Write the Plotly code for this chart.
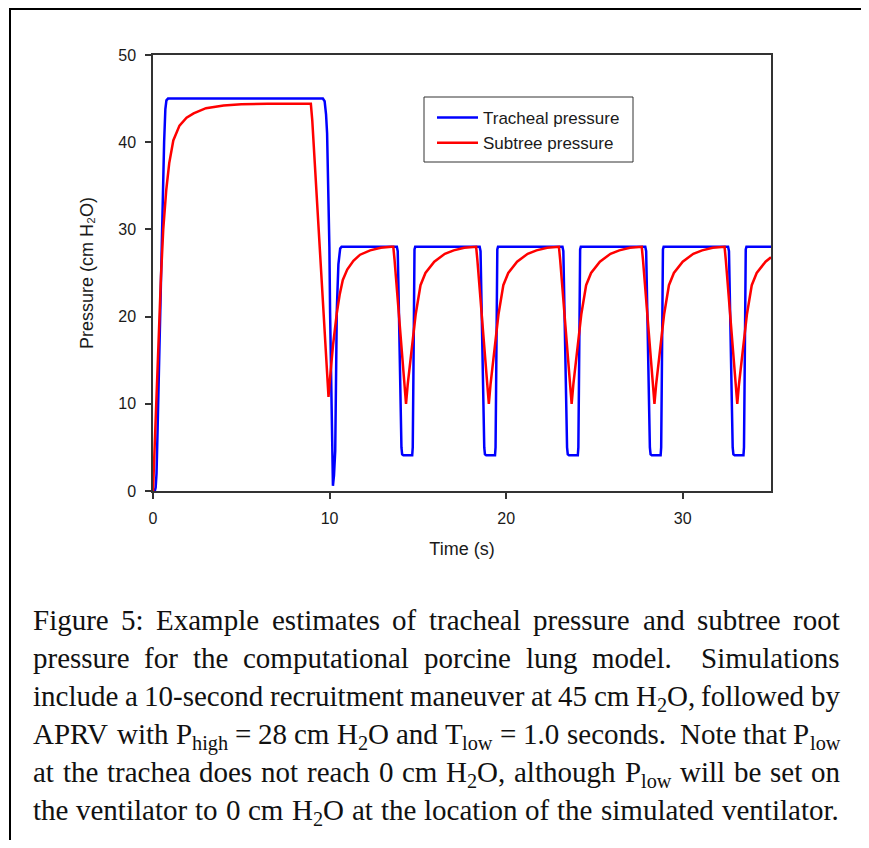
import re
import plotly.graph_objects as go

# ---------------- data ----------------
# Tracheal pressure (cm H2O) vs time (s)
trach_t = [0.00, 0.10, 0.15, 0.20, 0.26, 0.35, 0.45, 0.55, 0.63, 0.70, 0.76, 0.85,
           9.62, 9.72, 9.80, 9.86, 9.93, 9.99, 10.03, 10.10, 10.15, 10.19, 10.25, 10.32,
           10.41, 10.50, 10.60, 10.68,
           13.81, 13.86, 13.90, 13.96, 14.02, 14.07, 14.11, 14.18, 14.68, 14.71, 14.74, 14.77, 14.79, 14.81, 14.85,
           18.50, 18.55, 18.59, 18.65, 18.71, 18.76, 18.80, 18.87, 19.37, 19.40, 19.43, 19.46, 19.48, 19.50, 19.54,
           23.19, 23.24, 23.28, 23.34, 23.40, 23.45, 23.49, 23.56, 24.06, 24.09, 24.12, 24.15, 24.17, 24.19, 24.23,
           27.88, 27.93, 27.97, 28.03, 28.09, 28.14, 28.18, 28.25, 28.75, 28.78, 28.81, 28.84, 28.86, 28.88, 28.92,
           32.57, 32.62, 32.66, 32.72, 32.78, 32.83, 32.87, 32.94, 33.44, 33.47, 33.50, 33.53, 33.55, 33.57, 33.61,
           35.00]
trach_p = [0.0, 0.0, 0.4, 2.0, 7.0, 16.0, 24.6, 33.0, 40.0, 43.8, 44.8, 45.0,
           45.0, 44.7, 43.2, 41.0, 35.0, 28.0, 20.4, 9.0, 3.5, 0.6, 1.8, 4.6,
           20.8, 26.0, 27.8, 28.0,
           28.0, 27.5, 23.5, 15.5, 8.5, 5.0, 4.2, 4.1, 4.1, 5.0, 11.5, 20.5, 26.0, 27.7, 28.0,
           28.0, 27.5, 23.5, 15.5, 8.5, 5.0, 4.2, 4.1, 4.1, 5.0, 11.5, 20.5, 26.0, 27.7, 28.0,
           28.0, 27.5, 23.5, 15.5, 8.5, 5.0, 4.2, 4.1, 4.1, 5.0, 11.5, 20.5, 26.0, 27.7, 28.0,
           28.0, 27.5, 23.5, 15.5, 8.5, 5.0, 4.2, 4.1, 4.1, 5.0, 11.5, 20.5, 26.0, 27.7, 28.0,
           28.0, 27.5, 23.5, 15.5, 8.5, 5.0, 4.2, 4.1, 4.1, 5.0, 11.5, 20.5, 26.0, 27.7, 28.0,
           28.0]

# Subtree root pressure (cm H2O) vs time (s)
sub_t = [0.00, 0.08, 0.17, 0.30, 0.45, 0.58, 0.75, 0.92, 1.15, 1.50, 1.90, 2.30, 3.00, 4.00, 5.00, 6.50, 8.94,
         9.02, 9.50, 9.94,
         10.05, 10.20, 10.41, 10.58, 10.75, 11.00, 11.35, 11.73, 12.30, 12.90, 13.50,
         13.61, 13.68, 13.98, 14.23, 14.33, 14.43, 14.53, 14.71, 14.88, 15.15, 15.43, 15.93, 16.53, 17.03, 17.63, 18.23,
         18.30, 18.37, 18.67, 18.92, 19.02, 19.12, 19.22, 19.40, 19.57, 19.84, 20.12, 20.62, 21.22, 21.72, 22.32, 22.92,
         22.99, 23.06, 23.36, 23.61, 23.71, 23.81, 23.91, 24.09, 24.26, 24.53, 24.81, 25.31, 25.91, 26.41, 27.01, 27.61,
         27.68, 27.75, 28.05, 28.30, 28.40, 28.50, 28.60, 28.78, 28.95, 29.22, 29.50, 30.00, 30.60, 31.10, 31.70, 32.30,
         32.37, 32.44, 32.74, 32.99, 33.09, 33.19, 33.29, 33.47, 33.64, 33.91, 34.19, 34.69, 35.00]
sub_p = [0.0, 4.5, 10.5, 17.5, 24.5, 30.0, 34.5, 37.6, 40.2, 41.9, 42.8, 43.3, 43.9, 44.2, 44.35, 44.4, 44.4,
         42.5, 26.5, 10.8,
         13.5, 16.8, 20.4, 22.6, 24.2, 25.4, 26.4, 27.1, 27.6, 27.9, 28.0,
         28.0, 26.5, 19.0, 12.6, 10.0, 12.3, 14.4, 17.3, 20.3, 23.6, 25.0, 26.3, 27.2, 27.6, 27.9, 28.0,
         28.0, 26.5, 19.0, 12.6, 10.0, 12.3, 14.4, 17.3, 20.3, 23.6, 25.0, 26.3, 27.2, 27.6, 27.9, 28.0,
         28.0, 26.5, 19.0, 12.6, 10.0, 12.3, 14.4, 17.3, 20.3, 23.6, 25.0, 26.3, 27.2, 27.6, 27.9, 28.0,
         28.0, 26.5, 19.0, 12.6, 10.0, 12.3, 14.4, 17.3, 20.3, 23.6, 25.0, 26.3, 27.2, 27.6, 27.9, 28.0,
         28.0, 26.5, 19.0, 12.6, 10.0, 12.3, 14.4, 17.3, 20.3, 23.6, 25.0, 26.3, 26.8]

series_names = ["Tracheal pressure", "Subtree pressure"]
x_ticks = [0, 10, 20, 30]
y_ticks = [0, 10, 20, 30, 40, 50]
x_title = "Time (s)"
y_title = "Pressure (cm H\u2082O)"

# caption text; {...} marks a subscript
caption_lines = [
    "Figure 5: Example estimates of tracheal pressure and subtree root",
    "pressure for the computational porcine lung model.  Simulations",
    "include a 10-second recruitment maneuver at 45 cm H{2}O, followed by",
    "APRV with P{high} = 28 cm H{2}O and T{low} = 1.0 seconds.  Note that P{low}",
    "at the trachea does not reach 0 cm H{2}O, although P{low} will be set on",
    "the ventilator to 0 cm H{2}O at the location of the simulated ventilator.",
]

# ---------------- layout geometry ----------------
# The page has an 8px body margin, so figure pixel = page pixel - 8.
OFF = 8
W, H = 869 - OFF, 848 - 2 * OFF
# plot area, page pixels
PL, PR, PT, PB = 153, 771, 55, 491
L, R, T, B = PL - OFF, PR - OFF, PT - OFF, PB - OFF


def pxx(page_x):
    return (page_x - OFF - L) / (R - L)


def pxy(page_y):
    return (B - (page_y - OFF)) / (B - T)


# Times New Roman advance widths (per 1000 em) for justified caption layout
TNR = {' ': 250, ':': 278, '.': 250, ',': 250, '-': 333, '=': 564,
       'A': 722, 'E': 611, 'F': 556, 'H': 722, 'N': 722, 'O': 722, 'P': 556, 'R': 667,
       'S': 556, 'T': 611, 'V': 722,
       'a': 444, 'b': 500, 'c': 444, 'd': 500, 'e': 444, 'f': 333, 'g': 500, 'h': 500,
       'i': 278, 'j': 278, 'k': 500, 'l': 278, 'm': 778, 'n': 500, 'o': 500, 'p': 500,
       'q': 500, 'r': 333, 's': 389, 't': 278, 'u': 500, 'v': 500, 'w': 722, 'x': 500,
       'y': 500, 'z': 444}
for d in '0123456789':
    TNR[d] = 500

SUB_SCALE = 0.7


def segments(word):
    """Split a word into (text, is_subscript) pieces."""
    out = []
    for m in re.finditer(r'\{(.*?)\}|([^{]+)', word):
        if m.group(1) is not None:
            out.append((m.group(1), True))
        else:
            out.append((m.group(2), False))
    return out


def seg_width(text, is_sub, fs):
    w = sum(TNR.get(ch, 500) for ch in text) * fs / 1000.0
    return w * SUB_SCALE if is_sub else w


def word_width(word, fs):
    return sum(seg_width(t, s, fs) for t, s in segments(word))


CAP_FS = 29
CAP_LEFT, CAP_RIGHT = 33, 840
CAP_BASE0, CAP_STEP = 630, 38
ASCENT = 0.891
SUB_DROP = 0.21
CAP_FONT = 'Liberation Serif, Times New Roman, serif'

annotations = []
for i, line in enumerate(caption_lines):
    parts = re.split(r'( +)', line)
    words = parts[0::2]
    gaps = [len(g) for g in parts[1::2]]
    wsum = sum(word_width(w, CAP_FS) for w in words)
    nsp = sum(gaps)
    sp = (CAP_RIGHT - CAP_LEFT - wsum) / nsp
    xcur = CAP_LEFT
    base = CAP_BASE0 + i * CAP_STEP
    for j, w in enumerate(words):
        for text, is_sub in segments(w):
            fs = CAP_FS * SUB_SCALE if is_sub else CAP_FS
            b = base + SUB_DROP * CAP_FS if is_sub else base
            annotations.append(dict(
                text=text, x=pxx(xcur), y=pxy(b - ASCENT * fs), xref='paper', yref='paper',
                xanchor='left', yanchor='top', showarrow=False, borderpad=0, borderwidth=0,
                font=dict(family=CAP_FONT, size=fs, color='#111111')))
            xcur += seg_width(text, is_sub, CAP_FS)
        if j < len(gaps):
            xcur += gaps[j] * sp

shapes = [
    # outer figure frame
    dict(type='rect', xref='paper', yref='paper', x0=pxx(10), x1=pxx(863), y0=pxy(9), y1=pxy(860),
         line=dict(color='#000000', width=2), fillcolor='rgba(0,0,0,0)', layer='below'),
    # legend box
    dict(type='rect', xref='paper', yref='paper', x0=pxx(424), x1=pxx(633), y0=pxy(97), y1=pxy(162),
         line=dict(color='#333333', width=1), fillcolor='white', layer='below'),
]

fig = go.Figure()
fig.add_trace(go.Scatter(x=trach_t, y=trach_p, mode='lines', name=series_names[0],
                         line=dict(color='#0000FF', width=2.5)))
fig.add_trace(go.Scatter(x=sub_t, y=sub_p, mode='lines', name=series_names[1],
                         line=dict(color='#FF0000', width=2.5)))

axis_common = dict(ticks='outside', ticklen=6, tickwidth=1.5, tickcolor='#333333',
                   showline=True, linecolor='#333333', linewidth=1.5, mirror=True,
                   showgrid=False, zeroline=False, tickfont=dict(size=16, color='#1a1a1a'))

fig.update_layout(
    width=W, height=H,
    margin=dict(l=L, r=W - R, t=T, b=H - B),
    paper_bgcolor='white', plot_bgcolor='white',
    font=dict(family='Arial, Liberation Sans, sans-serif', size=16, color='#1a1a1a'),
    showlegend=True,
    legend=dict(x=pxx(432), y=pxy(100), xanchor='left', yanchor='top',
                bgcolor='rgba(0,0,0,0)', borderwidth=0, font=dict(size=17, color='#1a1a1a'),
                itemwidth=41, tracegroupgap=0),
    xaxis=dict(range=[0, 35], tickvals=x_ticks, ticklabelstandoff=6,
               title=dict(text=x_title, font=dict(size=18), standoff=16), **axis_common),
    yaxis=dict(range=[0, 50], tickvals=y_ticks, ticklabelstandoff=6,
               title=dict(text=y_title, font=dict(size=18), standoff=20), **axis_common),
    shapes=shapes,
    annotations=annotations,
)

fig.write_html("out.html")
